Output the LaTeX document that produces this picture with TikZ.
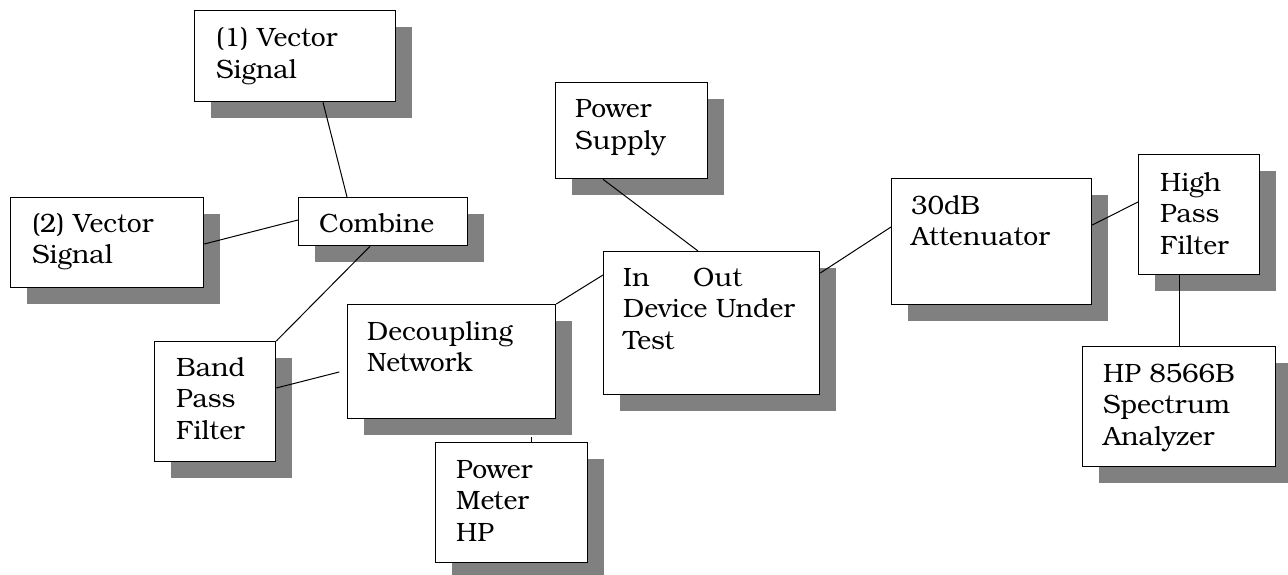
\documentclass[tikz,border=0pt]{standalone}
\usepackage{fontspec}
\setmainfont{texgyrebonum-regular.otf}
\usetikzlibrary{shadows}
\definecolor{shadowgray}{RGB}{128,128,128}
\newcommand\blocktext[1]{\begin{tabular}[t]{@{}l@{}}#1\end{tabular}}
\tikzset{
  block/.style={draw, fill=white, line width=1.3pt, rectangle, inner sep=0pt,
    anchor=north west,
    general shadow={fill=shadowgray, shadow xshift=16.5pt, shadow yshift=-16.5pt}},
  blocklabel/.style={anchor=base west, inner sep=0pt,
    font=\fontsize{26.5}{31.5}\selectfont},
  wire/.style={line width=1pt},
}
\begin{document}
\begin{tikzpicture}[x=1pt, y=-1pt]
\useasboundingbox (0,0) rectangle (1288,575);

% blocks: left/top corner and size in pt
\node[block, minimum width=201pt, minimum height=91pt]  (v1)  at (194,10)  {};
\node[block, minimum width=193pt, minimum height=90pt]  (v2)  at (10,197)  {};
\node[block, minimum width=169pt, minimum height=48pt]  (comb) at (298,197) {};
\node[block, minimum width=121pt, minimum height=120pt] (bp)  at (154,341) {};
\node[block, minimum width=208pt, minimum height=114pt] (dec) at (347,304) {};
\node[block, minimum width=152pt, minimum height=120pt] (pm)  at (435,442) {};
\node[block, minimum width=152pt, minimum height=96pt]  (ps)  at (555,82)  {};
\node[block, minimum width=216pt, minimum height=143pt] (dut) at (603,251) {};
\node[block, minimum width=200pt, minimum height=126pt] (att) at (891,178) {};
\node[block, minimum width=121pt, minimum height=120pt] (hpf) at (1138,154) {};
\node[block, minimum width=193pt, minimum height=120pt] (sa)  at (1082,346) {};

% labels, first baseline about 36pt below the top edge
\node[blocklabel] (v1t)  at ([xshift=22pt, yshift=-37pt]v1.north west)  {\blocktext{(1) Vector\\Signal}};
\node[blocklabel] (v2t)  at ([xshift=22pt, yshift=-35pt]v2.north west)  {\blocktext{(2) Vector\\Signal}};
\node[blocklabel] (combt) at ([xshift=21pt, yshift=-35pt]comb.north west) {Combine};
\node[blocklabel] (bpt)  at ([xshift=22pt, yshift=-35pt]bp.north west)  {\blocktext{Band\\Pass\\Filter}};
\node[blocklabel] (dect) at ([xshift=20pt, yshift=-36pt]dec.north west) {\blocktext{Decoupling\\Network}};
\node[blocklabel] (pmt)  at ([xshift=21pt, yshift=-36pt]pm.north west)  {\blocktext{Power\\Meter\\HP}};
\node[blocklabel] (pst)  at ([xshift=20pt, yshift=-36pt]ps.north west)  {\blocktext{Power\\Supply}};
\node[blocklabel] (dutt) at ([xshift=20pt, yshift=-35pt]dut.north west) {\blocktext{\makebox[70pt][l]{In}Out\\Device Under\\Test}};
\node[blocklabel] (attt) at ([xshift=20pt, yshift=-36pt]att.north west) {\blocktext{30dB\\Attenuator}};
\node[blocklabel] (hpft) at ([xshift=22pt, yshift=-37pt]hpf.north west) {\blocktext{High\\Pass\\Filter}};
\node[blocklabel] (sat)  at ([xshift=21pt, yshift=-36pt]sa.north west)  {\blocktext{HP 8566B\\Spectrum\\Analyzer}};

% connections
\draw[wire] ([xshift=129pt]v1.south west) -- ([xshift=49pt]comb.north west);
\draw[wire] ([yshift=-47pt]v2.north east) -- ([yshift=-23pt]comb.north west);
\draw[wire] ([xshift=72pt]comb.south west) -- (bp.north east);
\draw[wire, shorten >=8pt] ([yshift=-47pt]bp.north east) -- ([yshift=-66pt]dec.north west);
\draw[wire] (dec.north east) -- ([yshift=-24pt]dut.north west);
\draw[wire, shorten >=18pt] ([xshift=96pt]pm.north west) -- ([xshift=184pt]dec.south west);
\draw[wire] ([xshift=48pt]ps.south west) -- ([xshift=95pt]dut.north west);
\draw[wire] ([yshift=-22pt]dut.north east) -- ([yshift=-49pt]att.north west);
\draw[wire] ([yshift=-47pt]att.north east) -- ([yshift=-48pt]hpf.north west);
\draw[wire] ([xshift=41pt]hpf.south west) -- ([xshift=97pt]sa.north west);
\end{tikzpicture}
\end{document}
